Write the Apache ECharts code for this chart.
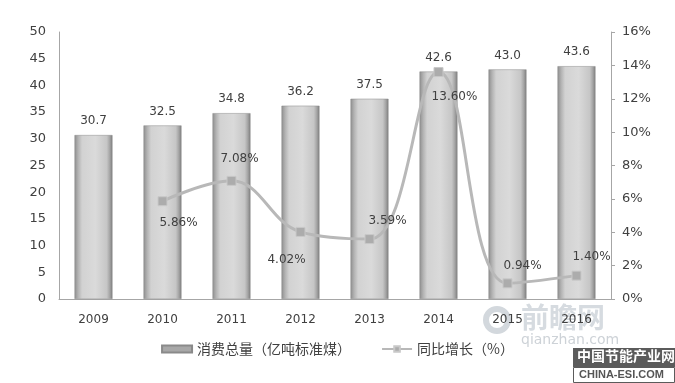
<!DOCTYPE html>
<html><head><meta charset="utf-8">
<script src="https://cdn.jsdelivr.net/npm/echarts@6/dist/echarts.min.js"></script>
<style>html,body{margin:0;padding:0;background:#fff}#c{width:675px;height:383px}</style>
</head><body><div id="c"></div>
<script>
const years = ['2009','2010','2011','2012','2013','2014','2015','2016'];
const consumption = [30.7, 32.5, 34.8, 36.2, 37.5, 42.6, 43.0, 43.6];
const growth = [null, 5.86, 7.08, 4.02, 3.59, 13.60, 0.94, 1.40];
const seriesNames = ['消费总量（亿吨标准煤）', '同比增长（%）'];
// label offsets (style only) for growth labels, relative to the marker centre
const growthLabelOffsets = [[0,0],[16,22],[8,-22],[-14,28],[18,-18],[16,25],[15,-17],[15,-19]];

const chart = echarts.init(document.getElementById('c'), null, {renderer:'canvas'});
const txt = '#404040';
const font = 'DejaVu Sans';
const barGrad = new echarts.graphic.LinearGradient(0,0,1,0,[
  {offset:0,color:'#8e8e8e'},{offset:0.1,color:'#b4b4b4'},{offset:0.2,color:'#d2d2d2'},
  {offset:0.55,color:'#dadada'},{offset:0.85,color:'#c6c6c6'},{offset:0.93,color:'#a4a4a4'},{offset:1,color:'#7c7c7c'}]);

chart.setOption({
  animation:false,
  backgroundColor:'#fff',
  textStyle:{fontFamily:font},
  grid:{left:59,right:64,top:32,bottom:84,containLabel:false},
  legend:{
    bottom:22, left:'center', itemGap:30, itemWidth:30, itemHeight:7,
    textStyle:{color:txt,fontSize:14,fontFamily:'Noto Sans CJK SC'},
    data:[
      {name:seriesNames[0], icon:'rect', itemStyle:{color:'#a8a8a8'}},
      {name:seriesNames[1]}
    ]
  },
  xAxis:{
    type:'category', data:years,
    axisLine:{lineStyle:{color:'#a6a6a6',width:1}},
    axisTick:{show:false},
    axisLabel:{color:txt,fontSize:12,margin:15,fontFamily:font}
  },
  yAxis:[
    {type:'value',min:0,max:50,interval:5,
     axisLine:{show:true,lineStyle:{color:'#a6a6a6'}},axisTick:{show:false},
     splitLine:{show:false},
     axisLabel:{color:txt,fontSize:13,margin:13,fontFamily:font}},
    {type:'value',min:0,max:16,interval:2,position:'right',
     axisLine:{show:true,lineStyle:{color:'#a6a6a6'}},
     axisTick:{show:true,inside:false,length:4,lineStyle:{color:'#a6a6a6'}},
     splitLine:{show:false},
     axisLabel:{color:txt,fontSize:13,margin:11,fontFamily:font,formatter:v=>v+'%'}}
  ],
  series:[
    {name:seriesNames[0],type:'bar',data:consumption,barWidth:'55%',z:2,
     itemStyle:{color:barGrad,borderColor:'#8a8a8a',borderWidth:0.5},
     label:{show:true,position:'top',distance:8,color:txt,fontSize:12,fontFamily:font,
       formatter:p=>p.value.toFixed(1)}},
    {name:seriesNames[1],type:'line',yAxisIndex:1,data:growth.map((v,i)=>({
        value:v,
        label:{offset:growthLabelOffsets[i]}
      })),
     smooth:0.4,connectNulls:false,z:5,
     symbol:'rect',symbolSize:9,showSymbol:true,
     lineStyle:{color:'#b8b8b8',width:3},
     itemStyle:{color:'#acacac',borderColor:'#c8c8c8',borderWidth:1},
     label:{show:true,position:'inside',color:txt,fontSize:12,fontFamily:font,
       formatter:p=>p.value==null?'':p.value.toFixed(2)+'%'}}
  ],
  graphic:[
    {type:'circle',left:483,top:306,shape:{r:11},style:{fill:'none',stroke:'#d3d8dd',lineWidth:6},z:-1},
    {type:'text',left:521,top:303,z:-1,style:{text:'前瞻网',fontSize:28,fontWeight:'bold',fill:'#d6dbe0',fontFamily:'Noto Sans CJK SC'}},
    {type:'text',left:521,top:333,z:-1,style:{text:'qianzhan.com',fontSize:14,fill:'#cdd2d7',fontFamily:font}},
    {type:'rect',left:573,top:348,shape:{width:102,height:19},style:{fill:'#5b5b5b'}},
    {type:'text',left:577,top:349,style:{text:'中国节能产业网',fontSize:14,fontWeight:'bold',fill:'#ffffff',fontFamily:'Noto Sans CJK SC'}},
    {type:'rect',left:573,top:367,shape:{width:101,height:15},style:{fill:'#ffffff',stroke:'#5b5b5b',lineWidth:1}},
    {type:'text',left:579,top:369,style:{text:'CHINA-ESI.COM',fontSize:11,fontWeight:'bold',fill:'#555555',fontFamily:'Liberation Sans'}}
  ]
});
</script></body></html>
